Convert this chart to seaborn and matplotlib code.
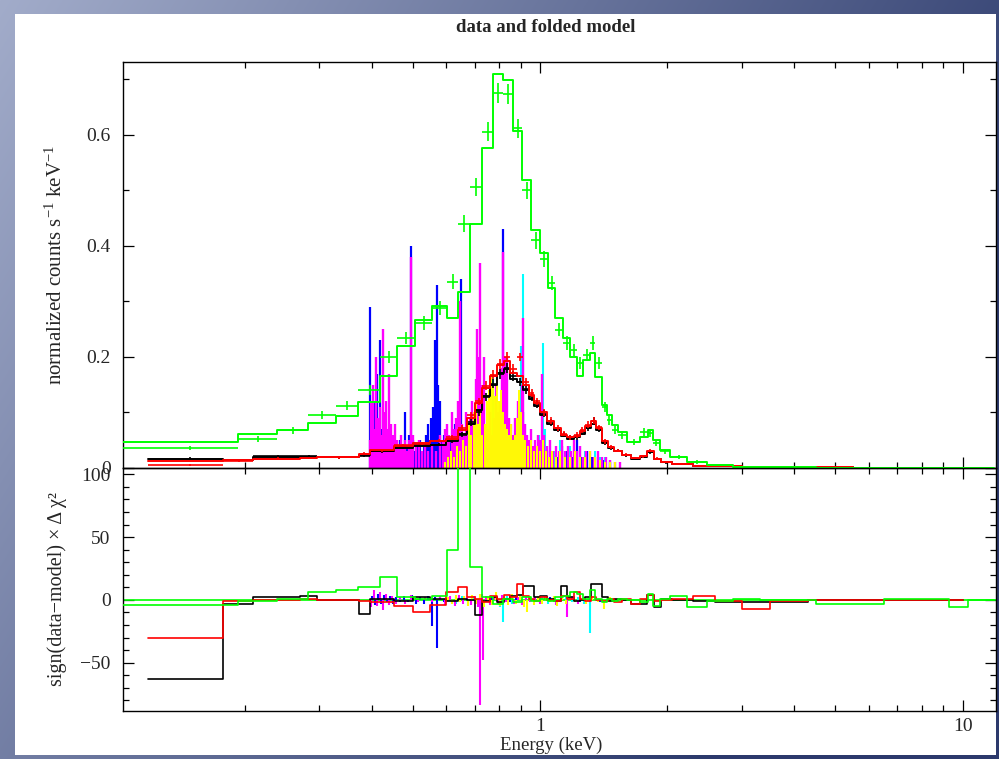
import numpy as np
import matplotlib
matplotlib.use("Agg")
import matplotlib.pyplot as plt
from matplotlib.ticker import LogLocator, FixedLocator, MultipleLocator, NullFormatter, FuncFormatter
import seaborn as sns

sns.set_style("ticks")
plt.rcParams["font.family"] = ["Liberation Serif", "DejaVu Serif"]
plt.rcParams["mathtext.fontset"] = "custom"
plt.rcParams["mathtext.rm"] = "Liberation Serif"
plt.rcParams["mathtext.it"] = "Liberation Serif:italic"

# ---------------- broadband spectrum (green) ----------------
green_edges = [0.103, 0.193, 0.238, 0.283, 0.328, 0.371, 0.419, 0.459, 0.506, 0.556,
               0.603, 0.640, 0.684, 0.728, 0.774, 0.818, 0.863, 0.907, 0.952, 1.000,
               1.045, 1.085, 1.133, 1.178, 1.223, 1.264, 1.313, 1.349, 1.402, 1.440,
               1.480, 1.528, 1.606, 1.723, 1.800, 1.850, 1.922, 2.029, 2.227, 2.483,
               2.860, 3.310, 4.500, 6.500, 9.300, 10.30, 11.90]
green_model = [0.047, 0.061, 0.068, 0.081, 0.093, 0.119, 0.165, 0.219, 0.267, 0.291,
               0.270, 0.318, 0.440, 0.577, 0.710, 0.699, 0.608, 0.519, 0.428, 0.387,
               0.324, 0.270, 0.235, 0.200, 0.166, 0.195, 0.207, 0.164, 0.113, 0.095,
               0.077, 0.065, 0.047, 0.056, 0.068, 0.050, 0.032, 0.020, 0.011, 0.005,
               0.002, 0.0012, 0.0008, 0.0005, 0.0004, 0.0003]
green_data = [0.036, 0.052, 0.068, 0.096, 0.112, 0.141, 0.200, 0.234, 0.261, 0.288,
              0.336, 0.440, 0.506, 0.606, 0.675, 0.674, 0.612, 0.500, 0.410, 0.377,
              0.333, 0.249, 0.225, 0.213, 0.189, 0.204, 0.225, 0.189, 0.110, 0.086,
              0.068, 0.060, 0.047, 0.065, 0.063, 0.045, 0.030, 0.020, 0.011, 0.005,
              0.002, 0.0012, 0.0008, 0.0005, 0.0004, 0.0003]
green_err = [0.004, 0.005, 0.006, 0.007, 0.008, 0.009, 0.010, 0.011, 0.012, 0.012,
             0.013, 0.015, 0.016, 0.017, 0.018, 0.018, 0.017, 0.016, 0.015, 0.014,
             0.013, 0.012, 0.012, 0.011, 0.011, 0.011, 0.012, 0.011, 0.009, 0.008,
             0.007, 0.007, 0.006, 0.007, 0.007, 0.006, 0.005, 0.004, 0.003, 0.002,
             0.001, 0.001, 0.001, 0.0005, 0.0005, 0.0005]
green_resid = [-4, -1, 1, 6, 8, 10, 18, 2, 1, 3,
               40, 110, 26, 2, -3, 1, -2, 2, -1, 1,
               -1, 2, 3, 6, 5, 1, 8, 1, -2, 1,
               -1, 1, 0, -2, 5, -5, 1, 3, -6, -1,
               1, 0, -3, 1, -6, 0]

# ---------------- two CCD spectra (black, red) ----------------
mos_edges = [0.118, 0.178, 0.209, 0.271, 0.297, 0.372, 0.396, 0.45, 0.50, 0.55,
             0.60, 0.64, 0.67, 0.70, 0.73, 0.76, 0.79, 0.82, 0.85, 0.88,
             0.91, 0.94, 0.97, 1.00, 1.04, 1.08, 1.12, 1.16, 1.20, 1.24,
             1.28, 1.32, 1.36, 1.40, 1.45, 1.50, 1.56, 1.64, 1.72, 1.79,
             1.86, 1.93, 2.05, 2.30, 2.60, 3.00, 3.50, 4.30, 5.50, 7.50, 10.0]
black_model = [0.016, 0.014, 0.020, 0.020, 0.019, 0.024, 0.030, 0.036, 0.040, 0.042,
               0.048, 0.062, 0.080, 0.105, 0.130, 0.150, 0.172, 0.178, 0.160, 0.155,
               0.140, 0.125, 0.112, 0.095, 0.080, 0.068, 0.058, 0.052, 0.055, 0.062,
               0.072, 0.080, 0.068, 0.045, 0.036, 0.030, 0.023, 0.017, 0.020, 0.028,
               0.016, 0.010, 0.007, 0.004, 0.003, 0.002, 0.0015, 0.001, 0.0007, 0.0005]
black_data = [0.017, 0.014, 0.021, 0.021, 0.019, 0.022, 0.030, 0.037, 0.041, 0.042,
              0.049, 0.060, 0.082, 0.100, 0.128, 0.152, 0.170, 0.180, 0.165, 0.155,
              0.142, 0.128, 0.115, 0.098, 0.082, 0.069, 0.060, 0.055, 0.056, 0.064,
              0.072, 0.085, 0.070, 0.046, 0.036, 0.031, 0.023, 0.017, 0.021, 0.029,
              0.016, 0.010, 0.007, 0.004, 0.003, 0.002, 0.0015, 0.001, 0.0007, 0.0005]
black_resid = [-63, -3, 2, 3, 0, -11, 1, -1, 2, 1,
               -1, 1, 0, -12, -1, 2, -2, 1, 3, 4,
               11, 11, 2, 3, 1, -1, 11, 2, -1, 0,
               2, 13, 13, 2, -1, 1, 0, -3, -3, 4,
               -6, 1, 0, -1, -2, -2, -2, 0, 0, 0]
red_model = [0.012, 0.014, 0.017, 0.018, 0.019, 0.026, 0.032, 0.040, 0.045, 0.048,
             0.053, 0.068, 0.090, 0.118, 0.145, 0.165, 0.185, 0.192, 0.172, 0.165,
             0.150, 0.132, 0.118, 0.100, 0.084, 0.072, 0.060, 0.055, 0.058, 0.066,
             0.076, 0.084, 0.072, 0.048, 0.038, 0.031, 0.024, 0.018, 0.021, 0.030,
             0.017, 0.011, 0.007, 0.004, 0.003, 0.002, 0.0015, 0.001, 0.0007, 0.0005]
red_data = [0.005, 0.013, 0.017, 0.018, 0.019, 0.026, 0.032, 0.041, 0.044, 0.049,
            0.055, 0.072, 0.095, 0.120, 0.148, 0.168, 0.188, 0.200, 0.178, 0.200,
            0.155, 0.135, 0.120, 0.100, 0.085, 0.072, 0.062, 0.055, 0.059, 0.068,
            0.078, 0.085, 0.073, 0.048, 0.038, 0.031, 0.024, 0.018, 0.021, 0.031,
            0.017, 0.011, 0.007, 0.004, 0.003, 0.002, 0.0015, 0.001, 0.0007, 0.0005]
red_resid = [-30, -1, 0, 1, 0, -1, -2, -5, -10, -4,
             6, 10, 2, 1, -2, 3, 1, 4, 2, 13,
             3, 1, -1, 2, 0, -1, 3, 1, 6, 1,
             -1, 2, 0, -1, 1, -2, 1, -3, 1, 4,
             -1, 0, 1, 3, -1, -7, -1, 0, 0, 0]
mos_err = [0.002, 0.002, 0.002, 0.002, 0.002, 0.003, 0.003, 0.003, 0.003, 0.003,
           0.004, 0.005, 0.006, 0.007, 0.008, 0.008, 0.009, 0.009, 0.009, 0.008,
           0.008, 0.007, 0.007, 0.006, 0.006, 0.005, 0.005, 0.005, 0.005, 0.005,
           0.006, 0.006, 0.005, 0.004, 0.004, 0.003, 0.003, 0.002, 0.003, 0.003,
           0.002, 0.002, 0.001, 0.001, 0.001, 0.001, 0.0005, 0.0005, 0.0005, 0.0005]

# ---------------- grating spectra (blue, cyan, magenta, yellow) ----------------
blue_e = [0.396, 0.401, 0.405, 0.410, 0.412, 0.416, 0.419, 0.423, 0.428, 0.433,
          0.437, 0.442, 0.447, 0.452, 0.457, 0.462, 0.467, 0.472, 0.480, 0.485,
          0.490, 0.496, 0.501, 0.506, 0.515, 0.520, 0.526, 0.532, 0.538, 0.544,
          0.550, 0.553, 0.559, 0.565, 0.571, 0.574, 0.580, 0.587, 0.593, 0.600,
          0.606, 0.613, 0.619, 0.630, 0.637, 0.644, 0.651, 0.658, 0.669, 0.680,
          0.691, 0.702, 0.714, 0.721, 0.733, 0.745, 0.762, 0.774, 0.791, 0.804,
          0.818, 0.827, 0.840, 0.854, 0.873, 0.892, 0.912, 0.932, 0.952, 0.973,
          0.995, 1.017, 1.039, 1.068, 1.097, 1.127, 1.158, 1.190, 1.223, 1.257,
          1.292, 1.327, 1.371, 1.417, 1.464]
blue_v = [0.29, 0.08, 0.12, 0.06, 0.17, 0.05, 0.23, 0.07, 0.09, 0.04,
          0.06, 0.03, 0.06, 0.04, 0.05, 0.03, 0.05, 0.04, 0.10, 0.04,
          0.06, 0.40, 0.05, 0.03, 0.04, 0.05, 0.03, 0.04, 0.06, 0.08,
          0.05, 0.09, 0.11, 0.23, 0.33, 0.15, 0.12, 0.05, 0.06, 0.04,
          0.05, 0.05, 0.04, 0.08, 0.05, 0.12, 0.34, 0.05, 0.04, 0.03,
          0.05, 0.04, 0.06, 0.10, 0.05, 0.04, 0.08, 0.05, 0.06, 0.05,
          0.43, 0.12, 0.08, 0.04, 0.05, 0.04, 0.10, 0.04, 0.03, 0.03,
          0.04, 0.06, 0.03, 0.03, 0.02, 0.04, 0.03, 0.02, 0.05, 0.02,
          0.03, 0.02, 0.02, 0.015, 0.01]
cyan_e = [0.596, 0.613, 0.630, 0.647, 0.665, 0.683, 0.702, 0.721, 0.741, 0.762,
          0.774, 0.791, 0.804, 0.827, 0.849, 0.873, 0.892, 0.902, 0.912, 0.922,
          0.947, 0.973, 0.995, 1.017, 1.028, 1.056, 1.085, 1.115, 1.146, 1.177,
          1.210, 1.243, 1.278, 1.313, 1.349, 1.387, 1.425, 1.464, 1.504]
cyan_v = [0.02, 0.03, 0.04, 0.03, 0.05, 0.04, 0.06, 0.05, 0.07, 0.05,
          0.17, 0.08, 0.06, 0.09, 0.05, 0.07, 0.10, 0.22, 0.35, 0.08,
          0.05, 0.04, 0.06, 0.225, 0.07, 0.04, 0.03, 0.05, 0.03, 0.04,
          0.03, 0.04, 0.03, 0.025, 0.03, 0.02, 0.02, 0.015, 0.01]
magenta_e = [0.396, 0.398, 0.403, 0.407, 0.410, 0.414, 0.419, 0.421, 0.425, 0.430,
             0.433, 0.437, 0.440, 0.444, 0.449, 0.454, 0.459, 0.464, 0.469, 0.474,
             0.480, 0.485, 0.490, 0.496, 0.501, 0.509, 0.518, 0.526, 0.535, 0.544,
             0.556, 0.568, 0.580, 0.590, 0.596, 0.603, 0.609, 0.619, 0.626, 0.633,
             0.640, 0.647, 0.654, 0.661, 0.669, 0.676, 0.683, 0.691, 0.698, 0.706,
             0.710, 0.717, 0.721, 0.729, 0.737, 0.745, 0.753, 0.762, 0.770, 0.778,
             0.787, 0.796, 0.804, 0.813, 0.818, 0.827, 0.836, 0.845, 0.854, 0.863,
             0.873, 0.883, 0.887, 0.897, 0.907, 0.912, 0.922, 0.932, 0.942, 0.952,
             0.963, 0.973, 0.989, 1.000, 1.011, 1.022, 1.039, 1.056, 1.073, 1.091,
             1.109, 1.127, 1.146, 1.165, 1.184, 1.203, 1.223, 1.243, 1.264, 1.284,
             1.313, 1.342, 1.371, 1.402, 1.433, 1.464, 1.504, 1.546]
magenta_v = [0.05, 0.12, 0.15, 0.07, 0.20, 0.09, 0.11, 0.06, 0.25, 0.10,
             0.12, 0.07, 0.17, 0.08, 0.06, 0.08, 0.05, 0.04, 0.06, 0.04,
             0.05, 0.03, 0.05, 0.38, 0.06, 0.04, 0.05, 0.03, 0.04, 0.03,
             0.04, 0.03, 0.06, 0.05, 0.07, 0.08, 0.06, 0.10, 0.07, 0.09,
             0.12, 0.30, 0.08, 0.06, 0.10, 0.07, 0.09, 0.12, 0.08, 0.16,
             0.25, 0.20, 0.37, 0.15, 0.20, 0.08, 0.07, 0.10, 0.06, 0.09,
             0.15, 0.10, 0.12, 0.18, 0.39, 0.20, 0.20, 0.09, 0.08, 0.06,
             0.09, 0.06, 0.12, 0.10, 0.15, 0.27, 0.08, 0.06, 0.05, 0.07,
             0.04, 0.05, 0.06, 0.05, 0.17, 0.06, 0.04, 0.05, 0.03, 0.04,
             0.03, 0.05, 0.03, 0.04, 0.03, 0.05, 0.03, 0.04, 0.02, 0.03,
             0.03, 0.02, 0.03, 0.02, 0.02, 0.015, 0.01, 0.01]
yellow_e = [0.596, 0.606, 0.616, 0.626, 0.637, 0.647, 0.658, 0.669, 0.680, 0.687,
            0.698, 0.706, 0.714, 0.721, 0.729, 0.741, 0.749, 0.758, 0.766, 0.774,
            0.783, 0.791, 0.800, 0.809, 0.818, 0.827, 0.836, 0.845, 0.854, 0.863,
            0.873, 0.883, 0.892, 0.902, 0.912, 0.922, 0.937, 0.952, 0.968, 0.984,
            1.000, 1.017, 1.033, 1.050, 1.068, 1.091, 1.115, 1.146, 1.177, 1.210,
            1.243, 1.278, 1.313, 1.349, 1.387, 1.425, 1.464, 1.504]
yellow_v = [0.01, 0.02, 0.03, 0.02, 0.04, 0.03, 0.05, 0.04, 0.08, 0.06,
            0.10, 0.12, 0.08, 0.10, 0.06, 0.08, 0.12, 0.14, 0.17, 0.15,
            0.13, 0.16, 0.12, 0.14, 0.10, 0.08, 0.07, 0.06, 0.08, 0.05,
            0.06, 0.09, 0.14, 0.10, 0.06, 0.05, 0.04, 0.05, 0.03, 0.04,
            0.03, 0.05, 0.03, 0.02, 0.03, 0.02, 0.03, 0.02, 0.02, 0.03,
            0.02, 0.02, 0.03, 0.02, 0.015, 0.01, 0.01, 0.01]

# residuals of the grating spectra
blue_res_e = [0.401, 0.407, 0.414, 0.421, 0.428, 0.435, 0.442, 0.449, 0.457, 0.467,
              0.477, 0.487, 0.498, 0.509, 0.520, 0.532, 0.544, 0.556, 0.565, 0.571,
              0.580, 0.593, 0.606, 0.619, 0.633, 0.647, 0.661, 0.676, 0.691, 0.706,
              0.721, 0.745, 0.770, 0.796, 0.822, 0.849, 0.878, 0.907, 0.947, 1.000,
              1.056, 1.115, 1.177, 1.243, 1.313, 1.387, 1.464]
blue_res = [3, -4, 5, -3, 4, -2, 3, -3, 2, -2,
            3, -2, 4, -3, 2, -3, 3, -21, 2, -38,
            3, -2, 2, -3, 2, -2, 3, -2, 2, -3,
            2, -2, 2, -2, 3, -2, 2, -3, 2, -2,
            2, -2, 3, -2, 2, -2, 1]
magenta_res_e = [0.398, 0.405, 0.412, 0.419, 0.425, 0.433, 0.440, 0.447, 0.457, 0.467,
                 0.480, 0.496, 0.515, 0.535, 0.556, 0.580, 0.596, 0.613, 0.630, 0.644,
                 0.658, 0.672, 0.687, 0.702, 0.714, 0.721, 0.729, 0.733, 0.745, 0.762,
                 0.778, 0.796, 0.813, 0.831, 0.849, 0.868, 0.887, 0.907, 0.927, 0.947,
                 0.973, 1.000, 1.028, 1.056, 1.091, 1.127, 1.158, 1.190, 1.230, 1.271,
                 1.313, 1.356, 1.402, 1.464, 1.529]
magenta_res = [-6, 8, -5, 6, -8, 5, -4, 3, -3, 2,
               -3, 4, -2, 2, -2, 3, -4, 3, -5, 4,
               -3, 2, -4, 3, -6, -84, 5, -48, 3, -4,
               2, -3, 4, -2, 3, -3, 2, -4, 3, -2,
               2, -3, 2, -2, -4, 2, -14, 2, -3, 2,
               -2, 2, -2, 1, -1]
cyan_res_e = [0.613, 0.633, 0.654, 0.676, 0.698, 0.721, 0.745, 0.770, 0.791, 0.804,
              0.818, 0.836, 0.859, 0.887, 0.917, 0.947, 0.978, 1.011, 1.045, 1.079,
              1.115, 1.152, 1.190, 1.230, 1.271, 1.313, 1.356, 1.402, 1.448, 1.496]
cyan_res = [2, -3, 3, -4, 3, -2, 3, -4, 2, -6,
            -18, 3, -3, 2, -2, 3, -2, 2, -3, 2,
            -2, 2, -2, 2, -3, -26, 2, -2, 1, -1]
yellow_res_e = [0.606, 0.619, 0.633, 0.647, 0.661, 0.676, 0.691, 0.706, 0.721, 0.737,
                0.753, 0.770, 0.787, 0.804, 0.822, 0.840, 0.859, 0.878, 0.897, 0.917,
                0.932, 0.947, 0.968, 0.989, 1.011, 1.033, 1.056, 1.079, 1.097, 1.127,
                1.152, 1.177, 1.210, 1.243, 1.284, 1.327, 1.371, 1.417, 1.464]
yellow_res = [2, -3, 4, -2, 3, -5, 4, -3, 5, -6,
              3, -4, 6, -5, 3, -4, 5, -3, 4, -6,
              -10, 3, -4, 3, -3, 2, -2, 3, -5, 2,
              -3, 2, -2, 2, -3, 2, -2, -7, 2]

GREEN = "#00ff00"
RED = "#ff0000"
BLUE = "#0000ff"
CYAN = "#00ffff"
MAGENTA = "#ff00ff"
YELLOW = "#ffff00"

W, H = 999, 759
fig = plt.figure(figsize=(W / 100, H / 100), dpi=100)

# slide-style gradient frame with a white page on top
bg = fig.add_axes([0, 0, 1, 1], zorder=-10)
bg.axis("off")
yy, xx = np.mgrid[0:H, 0:W]
t = np.clip(0.85 * xx / W + 0.4 * yy / H, 0, 1)
c0 = np.array([162, 172, 202]) / 255.0
c1 = np.array([44, 58, 108]) / 255.0
bg.imshow(c0 + (c1 - c0) * t[..., None], extent=[0, 1, 0, 1], aspect="auto",
          origin="upper", interpolation="bilinear")
bg.add_patch(plt.Rectangle((15 / W, 1 - 755 / H), (996 - 15) / W, (755 - 14) / H,
                           transform=bg.transAxes, facecolor="white", edgecolor="none"))
bg.set_xlim(0, 1)
bg.set_ylim(0, 1)

left = 123 / W
width = (996 - 123) / W
ax1 = fig.add_axes([left, 1 - 468 / H, width, (468 - 62) / H])
ax2 = fig.add_axes([left, 1 - 711 / H, width, (711 - 468) / H], sharex=ax1)
for a in (ax1, ax2):
    a.set_facecolor("none")


def steps(ax, edges, vals, color, lw=1.4, z=3):
    e = np.asarray(edges, float)
    v = np.append(np.asarray(vals, float), vals[-1])
    sns.lineplot(x=e, y=v, drawstyle="steps-post", color=color, lw=lw, ax=ax,
                 estimator=None, sort=False, zorder=z)


def crosses(ax, edges, vals, err, color, lw=1.2, z=3):
    e = np.asarray(edges, float)
    lo, hi = e[:-1], e[1:]
    mid = 0.5 * (lo + hi)
    ax.errorbar(mid, vals, xerr=[mid - lo, hi - mid], yerr=err, fmt="none",
                ecolor=color, elinewidth=lw, capsize=0, zorder=z)


# ---- upper panel: data and folded model ----
for e, v, col, w in ((blue_e, blue_v, BLUE, 1.6), (cyan_e, cyan_v, CYAN, 1.5),
                     (magenta_e, magenta_v, MAGENTA, 1.7), (yellow_e, yellow_v, YELLOW, 1.4)):
    ax1.vlines(e, 0, v, colors=col, lw=w, zorder=2)

crosses(ax1, mos_edges, black_data, mos_err, "black")
steps(ax1, mos_edges, black_model, "black")
crosses(ax1, mos_edges, red_data, mos_err, RED)
steps(ax1, mos_edges, red_model, RED)
crosses(ax1, green_edges, green_data, green_err, GREEN)
steps(ax1, green_edges, green_model, GREEN)

# ---- lower panel: residuals ----
ax2.axhline(0, color=GREEN, lw=1.2, zorder=1)
for e, r, col in ((blue_res_e, blue_res, BLUE), (cyan_res_e, cyan_res, CYAN),
                  (magenta_res_e, magenta_res, MAGENTA), (yellow_res_e, yellow_res, YELLOW)):
    ax2.vlines(e, 0, r, colors=col, lw=1.5, zorder=2)
steps(ax2, mos_edges, black_resid, "black", lw=1.2)
steps(ax2, mos_edges, red_resid, RED, lw=1.2)
steps(ax2, green_edges, green_resid, GREEN, lw=1.2)

# ---- axes styling ----
ax1.set_xscale("log")
ax1.set_xlim(0.103, 12.0)
ax1.set_ylim(0, 0.7315)
ax2.set_ylim(-88.5, 105)

ax1.yaxis.set_major_locator(FixedLocator([0, 0.2, 0.4, 0.6]))
ax1.yaxis.set_minor_locator(MultipleLocator(0.1))
ax1.yaxis.set_major_formatter(FuncFormatter(lambda v, p: "0" if v == 0 else f"{v:.1f}"))
ax2.yaxis.set_major_locator(FixedLocator([-50, 0, 50, 100]))
ax2.yaxis.set_minor_locator(MultipleLocator(10))
ax2.yaxis.set_major_formatter(FuncFormatter(lambda v, p: f"{int(v)}".replace("-", "\u2212")))

for a in (ax1, ax2):
    a.xaxis.set_major_locator(LogLocator(base=10, subs=(1.0,)))
    a.xaxis.set_minor_locator(LogLocator(base=10, subs=np.arange(2, 10)))
    a.tick_params(which="both", direction="in", top=True, right=True,
                  color="black", width=0.9)
    a.tick_params(which="major", length=8, labelsize=14, pad=9)
    a.tick_params(which="minor", length=4)
    for s in a.spines.values():
        s.set_color("black")
        s.set_linewidth(1.0)
    a.set_xlabel("")
    a.set_ylabel("")

ax1.tick_params(axis="x", labelbottom=False)
ax2.xaxis.set_major_formatter(FuncFormatter(lambda v, p: f"{v:g}"))
ax2.xaxis.set_minor_formatter(NullFormatter())
ax2.tick_params(axis="x", which="major", pad=5)

ax1.set_ylabel(r"normalized counts s$^{-1}$ keV$^{-1}$", fontsize=15)
ax2.set_ylabel("sign(data\u2212model) \u00d7 \u0394 \u03c7\u00b2", fontsize=14.5)
ax1.yaxis.set_label_coords(-0.064, 0.5)
ax2.yaxis.set_label_coords(-0.064, 0.5)
ax2.set_xlabel("Energy (keV)", fontsize=13.5)
ax2.xaxis.set_label_coords(0.49, -0.105)

fig.text(546 / W, 1 - 27 / H, "data and folded model", ha="center", va="center",
         fontsize=13.5, fontweight="bold")

fig.savefig("out.png", dpi=100)
